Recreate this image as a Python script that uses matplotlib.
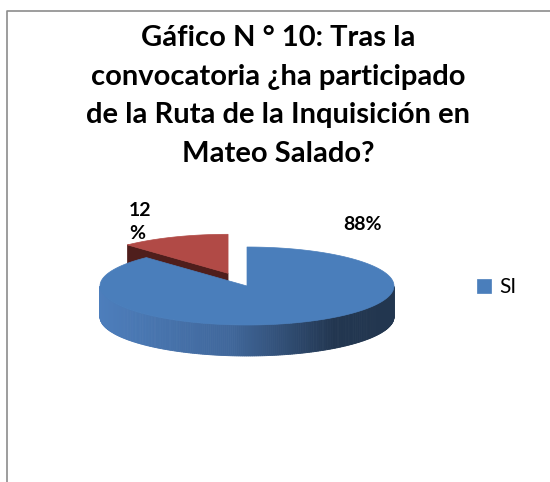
import numpy as np
import matplotlib
matplotlib.use('Agg')
import matplotlib.pyplot as plt
from matplotlib.patches import Polygon
from matplotlib.colors import to_rgb

# datos del gráfico
categorias = ['SI', 'NO']
valores = [88, 12]
etiquetas = ['88%', '12\n%']
separacion = [0.0, 0.35]
titulo = ('Gáfico N ° 10: Tras la\nconvocatoria ¿ha participado\n'
          'de la Ruta de la Inquisición en\nMateo Salado?')

colores_sup = ['#4A7EBB', '#B14A46']
colores_lado = ['#4A7EBB', '#4F1E1C']

plt.rcParams['font.family'] = ['Lato', 'DejaVu Sans']

fig = plt.figure(figsize=(5.5, 4.82), dpi=100)
ax = fig.add_axes([0, 0, 1, 1])
ax.set_xlim(0, 550)
ax.set_ylim(482, 0)
ax.axis('off')

# marco gris
ax.plot([7, 7, 560], [500, 11, 11], color='#8C8C8C', lw=1.2, clip_on=False)

# geometría de la tarta 3D (coordenadas en píxeles)
cx, cy, a, b, prof = 247, 286, 147, 39, 31


def punto(t, dx=0.0, dy=0.0, z=0.0):
    r = np.radians(t)
    return cx + dx + a * np.cos(r), cy + dy - b * np.sin(r) + z


def gradiente(x):
    # sombreado del lateral: claro a la izquierda, oscuro a la derecha
    f = (x - (cx - a)) / (2 * a)
    paradas = [(0.0, '#4D7EBC'), (0.45, '#40679B'), (0.8, '#223650'), (1.0, '#22364F')]
    for (f0, c0), (f1, c1) in zip(paradas[:-1], paradas[1:]):
        if f <= f1:
            u = (f - f0) / (f1 - f0)
            return tuple(np.array(to_rgb(c0)) * (1 - u) + np.array(to_rgb(c1)) * u)
    return to_rgb(paradas[-1][1])


total = sum(valores)
inicio = 90.0
porciones = []
for v, e in zip(valores, separacion):
    ang = 360.0 * v / total
    hi = inicio
    lo = inicio - ang
    inicio = lo
    mid = np.radians((hi + lo) / 2)
    dx = e * a * np.cos(mid)
    dy = -e * b * np.sin(mid)
    porciones.append((lo, hi, dx, dy))

# dibujar de atrás hacia delante: la porción NO primero
parches = {}
for i in [1, 0]:
    lo, hi, dx, dy = porciones[i]
    # caras radiales visibles
    for borde, normal in [(hi, hi + 90), (lo, lo - 90)]:
        if np.sin(np.radians(normal)) < -1e-6:
            p0 = (cx + dx, cy + dy)
            p1 = punto(borde, dx, dy)
            cara = [p0, p1, (p1[0], p1[1] + prof), (p0[0], p0[1] + prof)]
            ax.add_patch(Polygon(cara, closed=True, fc=colores_lado[i],
                                 ec=colores_lado[i], lw=0.5))
    # lateral curvo (solo la mitad delantera)
    ts = np.linspace(lo, hi, 400)
    frente = ts[np.sin(np.radians(ts)) < 0]
    if len(frente) > 1:
        for t0, t1 in zip(frente[:-1], frente[1:]):
            q0 = punto(t0, dx, dy)
            q1 = punto(t1, dx, dy)
            col = gradiente((q0[0] + q1[0]) / 2) if i == 0 else colores_lado[i]
            quad = [q0, q1, (q1[0], q1[1] + prof), (q0[0], q0[1] + prof)]
            ax.add_patch(Polygon(quad, closed=True, fc=col, ec=col, lw=0.6))
    # cara superior
    arco = [punto(t, dx, dy) for t in np.linspace(lo, hi, 200)]
    sup = Polygon([(cx + dx, cy + dy)] + arco, closed=True,
                  fc=colores_sup[i], ec=colores_sup[i], lw=0.5)
    ax.add_patch(sup)
    parches[i] = sup

# etiquetas de datos
ax.text(362, 225, etiquetas[0], ha='center', va='center',
        fontsize=14, fontweight='bold', color='black')
ax.text(129, 222, etiquetas[1], ha='left', va='center',
        fontsize=14, fontweight='bold', color='black', linespacing=1.45)

# título
ax.text(278, 25, titulo, ha='center', va='top', fontsize=21,
        fontweight='bold', color='black', linespacing=1.6)

# leyenda (solo muestra SI)
ax.legend(handles=[parches[0]], labels=[categorias[0]], loc='center left',
          bbox_to_anchor=(477 / 550, 1 - 287 / 482), frameon=False,
          fontsize=15, handlelength=0.65, handleheight=0.65,
          handletextpad=0.4, borderpad=0, borderaxespad=0)

fig.savefig('out.png', dpi=100)
